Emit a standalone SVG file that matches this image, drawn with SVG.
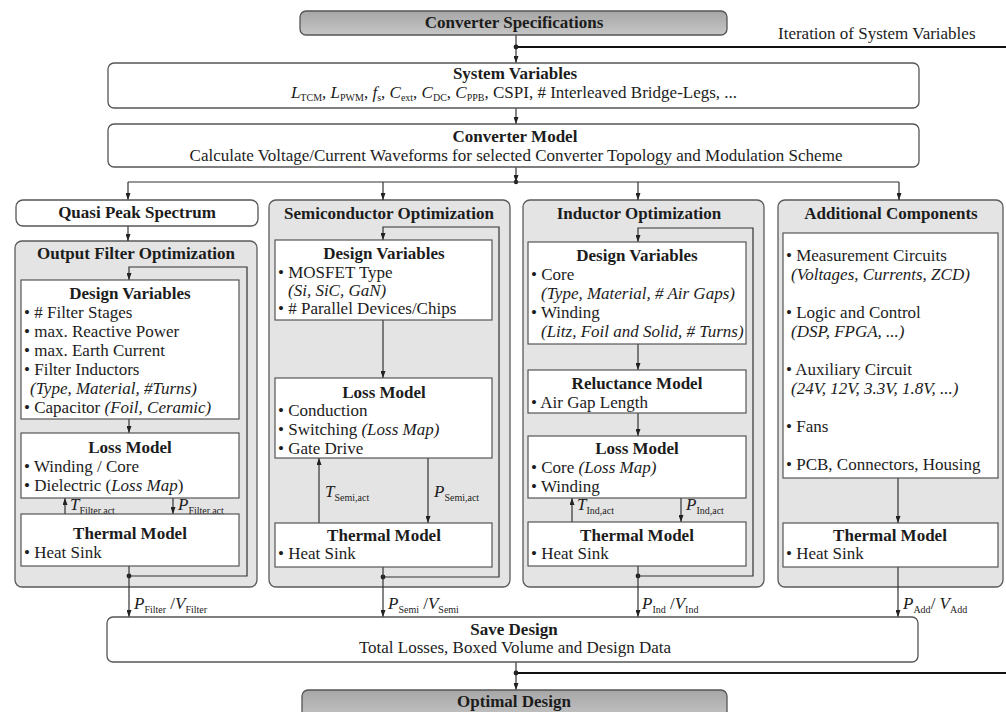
<svg xmlns="http://www.w3.org/2000/svg" width="1006" height="712" viewBox="0 0 1006 712" font-family="'Liberation Serif', 'DejaVu Serif', serif">
  <style>
    text { font-family: "Liberation Serif", "DejaVu Serif", serif; font-size: 17px; fill: #1c1c1c; }
    .b { font-weight: bold; }
    .i { font-style: italic; }
    .c { text-anchor: middle; }
    .s { font-size: 10px; font-style: normal; }
    .rbox { fill: #ffffff; stroke: #555555; stroke-width: 1.3; }
    .gbox { fill: url(#gray); stroke: #555555; stroke-width: 1.3; }
    .outer { fill: #e4e4e4; stroke: #5a5a5a; stroke-width: 1.3; }
    .inner { fill: #ffffff; stroke: #555555; stroke-width: 1.2; }
    .ln { fill: none; stroke: #333333; stroke-width: 1.2; }
    .ar { marker-end: url(#ah); }
    .thick { fill: none; stroke: #111111; stroke-width: 2.2; }
    .dot { fill: #222222; }
  </style>
  <defs>
    <linearGradient id="gray" x1="0" y1="0" x2="0" y2="1">
      <stop offset="0" stop-color="#a6a6a6"/>
      <stop offset="1" stop-color="#c6c6c6"/>
    </linearGradient>
    <marker id="ah" viewBox="0 0 7 5" refX="7" refY="2.5" markerWidth="7" markerHeight="5" markerUnits="userSpaceOnUse" orient="auto" preserveAspectRatio="none">
      <path d="M0,0 L7,2.5 L0,5 z" fill="#222222"/>
    </marker>
  </defs>

  <rect width="1006" height="712" fill="#ffffff"/>

  <!-- column backgrounds -->
  <g id="col-filter">
    <rect class="outer" x="15" y="241" width="242" height="346" rx="7"/>
    <text class="b c" x="136" y="259">Output Filter Optimization</text>
  </g>
  <g id="col-semi">
    <rect class="outer" x="269" y="200" width="241" height="387" rx="7"/>
    <text class="b c" x="389" y="219">Semiconductor Optimization</text>
  </g>
  <g id="col-ind">
    <rect class="outer" x="523" y="200" width="241" height="387" rx="7"/>
    <text class="b c" x="639" y="219">Inductor Optimization</text>
  </g>
  <g id="col-add">
    <rect class="outer" x="778" y="200" width="225" height="387" rx="7"/>
    <text class="b c" x="891" y="219">Additional Components</text>
  </g>

  <!-- connectors -->
  <g id="connectors">
    <path class="ln ar" d="M516 35 V63"/>
    <path class="thick" d="M516 47 H1006"/>
    <circle class="dot" cx="516" cy="47" r="2.4"/>
    <path class="ln ar" d="M516 108 V124"/>
    <path class="ln ar" d="M516 167 V182"/>
    <circle class="dot" cx="516" cy="182" r="2.2"/>
    <path class="ln" d="M128 182 H899"/>
    <path class="ln ar" d="M128 182 V200"/>
    <path class="ln ar" d="M383 182 V200"/>
    <path class="ln ar" d="M638 182 V200"/>
    <path class="ln ar" d="M899 182 V200"/>

    <!-- output filter -->
    <path class="ln ar" d="M128 226 V241"/>
    <path class="ln ar" d="M129 576 H247 V267 H129 V280"/>
    <circle class="dot" cx="129" cy="576" r="2.4"/>
    <path class="ln ar" d="M129 419 V433"/>
    <path class="ln ar" d="M65 514 V498"/>
    <path class="ln ar" d="M173 498 V514"/>
    <path class="ln ar" d="M129 566 V617"/>

    <!-- semiconductor -->
    <path class="ln ar" d="M383 577 H499 V227 H383 V240"/>
    <circle class="dot" cx="383" cy="577" r="2.4"/>
    <path class="ln ar" d="M383 320 V378"/>
    <path class="ln ar" d="M319 523 V458"/>
    <path class="ln ar" d="M428 458 V523"/>
    <path class="ln ar" d="M383 567 V617"/>

    <!-- inductor -->
    <path class="ln ar" d="M638 576 H753 V228 H638 V242"/>
    <circle class="dot" cx="638" cy="576" r="2.4"/>
    <path class="ln ar" d="M638 344 V370"/>
    <path class="ln ar" d="M638 413 V436"/>
    <path class="ln ar" d="M572 522 V498"/>
    <path class="ln ar" d="M681 498 V522"/>
    <path class="ln ar" d="M638 566 V617"/>

    <!-- additional -->
    <path class="ln ar" d="M898 478 V523"/>
    <path class="ln ar" d="M898 567 V617"/>

    <!-- bottom -->
    <path class="ln ar" d="M516 662 V690"/>
    <path class="thick" d="M516 673 H1006"/>
    <circle class="dot" cx="516" cy="673" r="2.4"/>

    <!-- flow labels -->
    <text x="70" y="510"><tspan class="i">T</tspan><tspan class="s" dy="4">Filter,act</tspan></text>
    <text x="178" y="510"><tspan class="i">P</tspan><tspan class="s" dy="4">Filter,act</tspan></text>
    <text x="325" y="497"><tspan class="i">T</tspan><tspan class="s" dy="4">Semi,act</tspan></text>
    <text x="434" y="497"><tspan class="i">P</tspan><tspan class="s" dy="4">Semi,act</tspan></text>
    <text x="577" y="510"><tspan class="i">T</tspan><tspan class="s" dy="4">Ind,act</tspan></text>
    <text x="686" y="510"><tspan class="i">P</tspan><tspan class="s" dy="4">Ind,act</tspan></text>
    <text x="134" y="609"><tspan class="i">P</tspan><tspan class="s" dy="4">Filter</tspan><tspan dy="-4"> /</tspan><tspan class="i">V</tspan><tspan class="s" dy="4">Filter</tspan></text>
    <text x="388" y="609"><tspan class="i">P</tspan><tspan class="s" dy="4">Semi</tspan><tspan dy="-4"> /</tspan><tspan class="i">V</tspan><tspan class="s" dy="4">Semi</tspan></text>
    <text x="642" y="609"><tspan class="i">P</tspan><tspan class="s" dy="4">Ind</tspan><tspan dy="-4"> /</tspan><tspan class="i">V</tspan><tspan class="s" dy="4">Ind</tspan></text>
    <text x="903" y="609"><tspan class="i">P</tspan><tspan class="s" dy="4">Add</tspan><tspan dy="-4">/ </tspan><tspan class="i">V</tspan><tspan class="s" dy="4">Add</tspan></text>
  </g>

  <text x="778" y="39">Iteration of System Variables</text>

  <g id="converter-specifications">
    <rect class="gbox" x="300" y="11" width="427" height="24" rx="6"/>
    <text class="b c" x="514" y="28">Converter Specifications</text>
  </g>

  <g id="system-variables">
    <rect class="rbox" x="108" y="63" width="811" height="45" rx="6"/>
    <text class="b c" x="515" y="79">System Variables</text>
    <text class="c" x="514" y="98"><tspan class="i">L</tspan><tspan class="s" dy="3">TCM</tspan><tspan dy="-3">, </tspan><tspan class="i">L</tspan><tspan class="s" dy="3">PWM</tspan><tspan dy="-3">, </tspan><tspan class="i">f</tspan><tspan class="s" dy="3">s</tspan><tspan dy="-3">, </tspan><tspan class="i">C</tspan><tspan class="s" dy="3">ext</tspan><tspan dy="-3">, </tspan><tspan class="i">C</tspan><tspan class="s" dy="3">DC</tspan><tspan dy="-3">, </tspan><tspan class="i">C</tspan><tspan class="s" dy="3">PPB</tspan><tspan dy="-3">, CSPI, # Interleaved Bridge-Legs, ...</tspan></text>
  </g>

  <g id="converter-model">
    <rect class="rbox" x="108" y="124" width="811" height="43" rx="6"/>
    <text class="b c" x="515" y="142">Converter Model</text>
    <text class="c" x="516" y="161">Calculate Voltage/Current Waveforms for selected Converter Topology and Modulation Scheme</text>
  </g>

  <g id="quasi-peak-spectrum">
    <rect class="rbox" x="16" y="200" width="242" height="26" rx="7"/>
    <text class="b c" x="137" y="218">Quasi Peak Spectrum</text>
  </g>

  <!-- output filter blocks -->
  <g id="filter-design-variables">
    <rect class="inner" x="21" y="280" width="218" height="139"/>
    <text class="b c" x="130" y="299">Design Variables</text>
    <text x="24" y="318">• # Filter Stages</text>
    <text x="24" y="337">• max. Reactive Power</text>
    <text x="24" y="356">• max. Earth Current</text>
    <text x="24" y="375">• Filter Inductors</text>
    <text class="i" x="30" y="394">(Type, Material, #Turns)</text>
    <text x="24" y="413">• Capacitor <tspan class="i">(Foil, Ceramic)</tspan></text>
  </g>
  <g id="filter-loss-model">
    <rect class="inner" x="21" y="433" width="218" height="65"/>
    <text class="b c" x="130" y="453">Loss Model</text>
    <text x="24" y="472">• Winding / Core</text>
    <text x="24" y="491">• Dielectric (<tspan class="i">Loss Map</tspan>)</text>
  </g>
  <g id="filter-thermal-model">
    <rect class="inner" x="21" y="514" width="218" height="52"/>
    <text class="b c" x="130" y="539">Thermal Model</text>
    <text x="24" y="558">• Heat Sink</text>
  </g>

  <!-- semiconductor blocks -->
  <g id="semi-design-variables">
    <rect class="inner" x="275" y="240" width="217" height="80"/>
    <text class="b c" x="384" y="259">Design Variables</text>
    <text x="278" y="278">• MOSFET Type</text>
    <text class="i" x="288" y="296">(Si, SiC, GaN)</text>
    <text x="278" y="314">• # Parallel Devices/Chips</text>
  </g>
  <g id="semi-loss-model">
    <rect class="inner" x="275" y="378" width="217" height="80"/>
    <text class="b c" x="384" y="398">Loss Model</text>
    <text x="278" y="416">• Conduction</text>
    <text x="278" y="435">• Switching <tspan class="i">(Loss Map)</tspan></text>
    <text x="278" y="454">• Gate Drive</text>
  </g>
  <g id="semi-thermal-model">
    <rect class="inner" x="275" y="523" width="217" height="44"/>
    <text class="b c" x="384" y="541">Thermal Model</text>
    <text x="278" y="559">• Heat Sink</text>
  </g>

  <!-- inductor blocks -->
  <g id="ind-design-variables">
    <rect class="inner" x="528" y="242" width="218" height="102"/>
    <text class="b c" x="637" y="261">Design Variables</text>
    <text x="531" y="280">• Core</text>
    <text class="i" x="541" y="299">(Type, Material, # Air Gaps)</text>
    <text x="531" y="318">• Winding</text>
    <text class="i" x="541" y="337">(Litz, Foil and Solid, # Turns)</text>
  </g>
  <g id="ind-reluctance-model">
    <rect class="inner" x="528" y="370" width="218" height="43"/>
    <text class="b c" x="637" y="389">Reluctance Model</text>
    <text x="531" y="408">• Air Gap Length</text>
  </g>
  <g id="ind-loss-model">
    <rect class="inner" x="528" y="436" width="218" height="62"/>
    <text class="b c" x="637" y="454">Loss Model</text>
    <text x="531" y="473">• Core <tspan class="i">(Loss Map)</tspan></text>
    <text x="531" y="492">• Winding</text>
  </g>
  <g id="ind-thermal-model">
    <rect class="inner" x="528" y="522" width="218" height="44"/>
    <text class="b c" x="637" y="541">Thermal Model</text>
    <text x="531" y="559">• Heat Sink</text>
  </g>

  <!-- additional components blocks -->
  <g id="add-components-list">
    <rect class="inner" x="783" y="233" width="215" height="245"/>
    <text x="786" y="261">• Measurement Circuits</text>
    <text class="i" x="791" y="280">(Voltages, Currents, ZCD)</text>
    <text x="786" y="318">• Logic and Control</text>
    <text class="i" x="791" y="337">(DSP, FPGA, ...)</text>
    <text x="786" y="375">• Auxiliary Circuit</text>
    <text class="i" x="791" y="394">(24V, 12V, 3.3V, 1.8V, ...)</text>
    <text x="786" y="432">• Fans</text>
    <text x="786" y="470">• PCB, Connectors, Housing</text>
  </g>
  <g id="add-thermal-model">
    <rect class="inner" x="783" y="523" width="215" height="44"/>
    <text class="b c" x="890" y="541">Thermal Model</text>
    <text x="786" y="559">• Heat Sink</text>
  </g>

  <g id="save-design">
    <rect class="rbox" x="107" y="617" width="811" height="45" rx="6"/>
    <text class="b c" x="514" y="635">Save Design</text>
    <text class="c" x="515" y="653">Total Losses, Boxed Volume and Design Data</text>
  </g>

  <g id="optimal-design">
    <rect class="gbox" x="302" y="690" width="425" height="30" rx="6"/>
    <text class="b c" x="514" y="707">Optimal Design</text>
  </g>
</svg>
